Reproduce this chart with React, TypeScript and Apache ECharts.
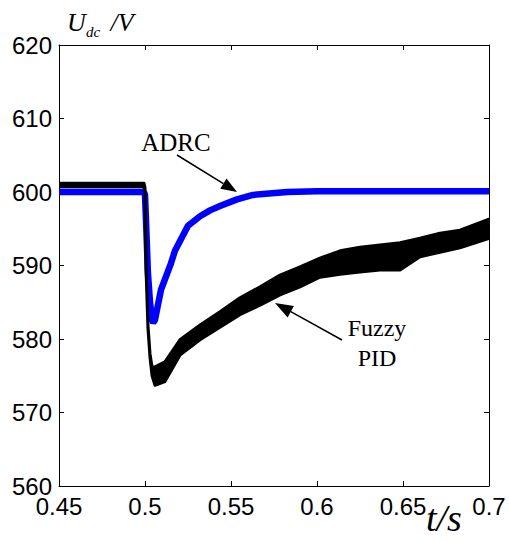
import React, { useEffect, useRef } from "react";
import * as echarts from "echarts";

// ADRC response (t in s, Udc in V)
const adrcT = [0.45, 0.4994, 0.5, 0.5006, 0.5017, 0.5029, 0.5041, 0.5047, 0.5058, 0.5093, 0.5151, 0.5174, 0.5203, 0.525, 0.532, 0.5378, 0.5436, 0.5535, 0.5628, 0.5826, 0.6, 0.65, 0.7];
const adrcV = [600.0, 600.0, 599.6, 596, 589, 585, 582.6, 582.2, 582.6, 586.7, 590.3, 592.0, 593.3, 595.4, 596.7, 597.5, 598.1, 599.0, 599.6, 600.0, 600.1, 600.1, 600.1];

// Fuzzy PID response: envelope of the oscillating trace
const fuzzyT = [0.45, 0.4738, 0.4971, 0.4994, 0.5, 0.5006, 0.5017, 0.5029, 0.5041, 0.5058, 0.5116, 0.5203, 0.532, 0.5436, 0.5552, 0.5669, 0.5785, 0.5901, 0.6017, 0.6134, 0.625, 0.6366, 0.6483, 0.6599, 0.6715, 0.6831, 0.7];
const fuzzyUpper = [601.2, 601.2, 601.2, 601.2, 600.6, 590, 582, 578, 576.2, 576.2, 576.9, 579.9, 581.9, 583.7, 585.6, 587.1, 588.7, 589.8, 591.0, 592.0, 592.5, 592.8, 593.1, 593.7, 594.4, 594.8, 596.3];
const fuzzyLower = [600.7, 600.7, 600.7, 600.7, 600.0, 589.5, 581.5, 577.5, 575.0, 573.7, 574.2, 577.8, 579.9, 581.6, 583.3, 584.6, 586.0, 587.1, 588.4, 588.8, 589.1, 589.4, 589.4, 591.2, 591.8, 592.4, 593.7];

const xMin = 0.45;
const xMax = 0.7;
const xStep = 0.05;
const yMin = 560;
const yMax = 620;
const yStep = 10;

function arrow(x1: number, y1: number, x2: number, y2: number, headLen: number, headHalf: number) {
  const dx = x2 - x1;
  const dy = y2 - y1;
  const len = Math.sqrt(dx * dx + dy * dy);
  const ux = dx / len;
  const uy = dy / len;
  const bx = x2 - ux * headLen;
  const by = y2 - uy * headLen;
  const px = -uy;
  const py = ux;
  return [
    { type: "line", shape: { x1, y1, x2: bx, y2: by }, style: { stroke: "#000", lineWidth: 1.5 }, z: 10 },
    {
      type: "polygon",
      shape: { points: [[x2, y2], [bx + px * headHalf, by + py * headHalf], [bx - px * headHalf, by - py * headHalf]] },
      style: { fill: "#000" },
      z: 10,
    },
  ];
}

export default function App() {
  const ref = useRef<HTMLDivElement>(null);
  useEffect(() => {
    if (!ref.current) return;
    const chart = echarts.init(ref.current, null, { renderer: "svg" });
    const serif = "'Liberation Serif', 'Times New Roman', serif";
    const sans = "'Liberation Sans', Arial, sans-serif";
    const axisCommon = {
      type: "value" as const,
      axisLine: { show: true, onZero: false, lineStyle: { color: "#000", width: 1 } },
      axisTick: { show: true, inside: true, length: 5, lineStyle: { color: "#000", width: 1 } },
      splitLine: { show: false },
    };
    const fmt = (v: number) => String(+v.toFixed(2));
    chart.setOption({
      animation: false,
      backgroundColor: "#fff",
      grid: { left: 59, right: 20, top: 45, bottom: 56, containLabel: false },
      xAxis: [
        {
          ...axisCommon,
          position: "bottom",
          min: xMin,
          max: xMax,
          interval: xStep,
          axisLabel: { show: true, color: "#000", fontSize: 24, lineHeight: 18, fontFamily: sans, margin: 11, formatter: fmt, showMinLabel: true, showMaxLabel: true },
        },
        {
          ...axisCommon,
          position: "top",
          min: xMin,
          max: xMax,
          interval: xStep,
          axisLabel: { show: false },
        },
      ],
      yAxis: [
        {
          ...axisCommon,
          position: "left",
          min: yMin,
          max: yMax,
          interval: yStep,
          axisLabel: { show: true, color: "#000", fontSize: 24, lineHeight: 18, fontFamily: sans, margin: 7, showMinLabel: true, showMaxLabel: true },
        },
        {
          ...axisCommon,
          position: "right",
          min: yMin,
          max: yMax,
          interval: yStep,
          axisLabel: { show: false },
        },
      ],
      series: [
        {
          name: "ADRC",
          type: "line",
          data: adrcT.map((t, i) => [t, adrcV[i]]),
          showSymbol: false,
          symbol: "none",
          lineStyle: { color: "#0000ff", width: 6.5 },
          z: 2,
        },
        {
          name: "Fuzzy PID",
          type: "custom",
          clip: true,
          z: 3,
          encode: { x: 0, y: [1, 2] },
          data: fuzzyT.map((t, i) => [t, fuzzyLower[i], fuzzyUpper[i]]),
          renderItem: (params: any, api: any) => {
            if (params.dataIndex !== 0) return null;
            const top = fuzzyT.map((t, i) => api.coord([t, fuzzyUpper[i]]));
            const bottom = fuzzyT.map((t, i) => api.coord([t, fuzzyLower[i]])).reverse();
            return {
              type: "polygon",
              shape: { points: top.concat(bottom) },
              style: { fill: "#000", stroke: "#000", lineWidth: 3, lineJoin: "round" },
            };
          },
        },
      ],
      graphic: [
        { type: "text", left: 67, top: 9, style: { text: "U", font: `italic 26px ${serif}`, fill: "#000" }, z: 10 },
        { type: "text", left: 86, top: 24, style: { text: "dc", font: `italic 15px ${serif}`, fill: "#000" }, z: 10 },
        { type: "text", left: 104, top: 9, style: { text: " /V", font: `italic 26px ${serif}`, fill: "#000" }, z: 10 },
        { type: "text", left: 426, top: 499, style: { text: "t/s", font: `italic 38px ${serif}`, fill: "#000" }, z: 10 },
        { type: "text", x: 176, y: 142, style: { text: "ADRC", font: `25px ${serif}`, fill: "#000", align: "center", verticalAlign: "middle" }, z: 10 },
        { type: "text", x: 377, y: 328, style: { text: "Fuzzy", font: `24px ${serif}`, fill: "#000", align: "center", verticalAlign: "middle" }, z: 10 },
        { type: "text", x: 377, y: 358, style: { text: "PID", font: `24px ${serif}`, fill: "#000", align: "center", verticalAlign: "middle" }, z: 10 },
        ...arrow(177, 155, 237, 192, 16, 6),
        ...arrow(342, 340, 275, 303, 18, 6.5),
      ],
    });
    return () => chart.dispose();
  }, []);
  return <div ref={ref} style={{ position: "fixed", left: 0, top: 0, width: 509, height: 542 }} />;
}
